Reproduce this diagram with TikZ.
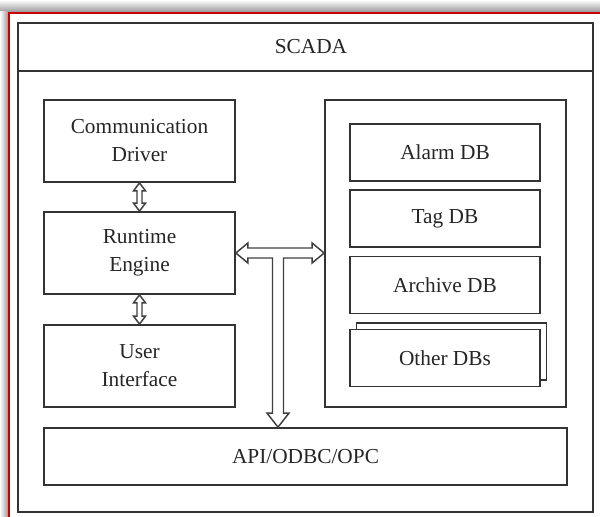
\documentclass[tikz,border=0pt]{standalone}
\usepackage{fontspec}
\setmainfont{Liberation Serif}
\usetikzlibrary{calc}

\tikzset{every picture/.style={line width=0.75pt}}
\tikzset{
  box/.style={draw=black!80, line width=1.3pt, fill=white, rectangle, inner sep=0.75pt,
    align=center, text=black!85, font=\fontsize{16}{21}\selectfont},
  hollow/.style={draw=black!75, line width=1.1pt, fill=white, line join=miter}
}

\begin{document}
\begin{tikzpicture}[x=0.75pt,y=0.75pt,yscale=-1,xscale=1]
	\useasboundingbox (0,0) rectangle (600,517);
	%Shadow and frame
	\shade [top color=white, bottom color=black!40] (0,0) rectangle (600,12);
	\shade [left color=white, right color=black!40] (0,12) rectangle (8,517);
	\fill [white] (9,13) rectangle (600,517);
	\draw [color={rgb, 255:red, 200; green, 0; blue, 0 }, line width=1.5pt] (9,517) -- (9,13) -- (600,13);
	%Shape: Rectangle (outer)
	\draw [draw=black!80, line width=1.3pt] (18,23) rectangle (593,512);
	%Straight Lines
	\draw [draw=black!80, line width=1.3pt] (18,71) -- (593,71);
	\node (scada) [text=black!85, font=\fontsize{16}{21}\selectfont] at (311,47) {SCADA};

	%Left column
	\node (drv) [box, minimum width=191*0.75pt, minimum height=82*0.75pt] at (139.5,141) {Communication\\Driver};
	\node (eng) [box, minimum width=191*0.75pt, minimum height=82*0.75pt] at (139.5,253) {Runtime\\Engine};
	\node (ui) [box, minimum width=191*0.75pt, minimum height=82*0.75pt] at (139.5,366) {User\\Interface};

	%Right column
	\node (store) [box, minimum width=241*0.75pt, minimum height=307*0.75pt] at (445.5,253.5) {};
	\node (alarm) [box, minimum width=190*0.75pt, minimum height=57*0.75pt] at (445,152.5) {Alarm DB};
	\node (tag) [box, minimum width=190*0.75pt, minimum height=57*0.75pt] at (445,218.5) {Tag DB};
	\node (arch) [box, minimum width=190*0.75pt, minimum height=57*0.75pt] at (445,285) {Archive DB};
	\node (otherbk) [box, minimum width=190*0.75pt, minimum height=57*0.75pt] at (451.5,351.5) {};
	\node (other) [box, minimum width=190*0.75pt, minimum height=57*0.75pt] at (445,358) {Other DBs};

	%Bottom
	\node (api) [box, minimum width=523*0.75pt, minimum height=57*0.75pt] at (305.5,456.5) {API/ODBC/OPC};
	\coordinate (tee) at ($(api.north)+(-27.5,0)$);

	%Arrows
	\draw [hollow] (drv.south) -- ++(6,8) -- ++(-3.5,0) -- ($(eng.north)+(2.5,-8)$) -- ++(3.5,0) -- (eng.north)
		-- ++(-6,-8) -- ++(3.5,0) -- ($(drv.south)+(-2.5,8)$) -- ++(-3.5,0) -- cycle;
	\draw [hollow] (eng.south) -- ++(6,8) -- ++(-3.5,0) -- ($(ui.north)+(2.5,-8)$) -- ++(3.5,0) -- (ui.north)
		-- ++(-6,-8) -- ++(3.5,0) -- ($(eng.south)+(-2.5,8)$) -- ++(-3.5,0) -- cycle;
	\draw [hollow] (eng.east) -- ++(12,-10) -- ++(0,5) -- ($(eng.east -| store.west)+(-12,-5)$) -- ++(0,-5)
		-- (eng.east -| store.west) -- ++(-12,10) -- ++(0,-5) -- ($(eng.east -| tee)+(5.5,5)$)
		-- ($(tee)+(5.5,-14)$) -- ++(5.5,0) -- (tee) -- ++(-11,-14) -- ++(5.5,0)
		-- ($(eng.east -| tee)+(-5.5,5)$) -- ($(eng.east)+(12,5)$) -- ++(0,5) -- cycle;
\end{tikzpicture}
\end{document}
